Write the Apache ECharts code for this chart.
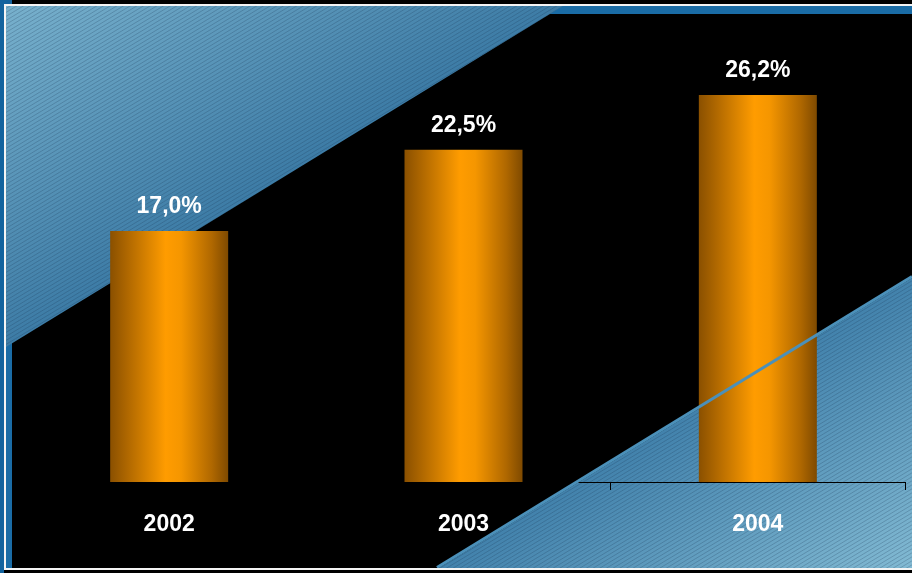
<!DOCTYPE html>
<html>
<head>
<meta charset="utf-8">
<style>
  html, body { margin: 0; padding: 0; background: #000; }
  #chart { width: 912px; height: 573px; }
</style>
<script src="https://cdn.jsdelivr.net/npm/echarts@6/dist/echarts.min.js"></script>
</head>
<body>
<div id="chart"></div>
<script>
// Share by year (percent)
const categories = ['2002', '2003', '2004'];
const shareValues = [17.0, 22.5, 26.2];

// Fine diagonal hatching used on the blue panels
function makeHatch() {
  const c = document.createElement('canvas');
  c.width = 20; c.height = 12;
  const g = c.getContext('2d');
  g.strokeStyle = 'rgba(25,50,80,0.24)';
  g.lineWidth = 1;
  for (let k = -24; k <= 36; k += 4) {
    g.beginPath();
    g.moveTo(-2, k + 1.2);
    g.lineTo(22, k - 0.6 * 24 + 1.2);
    g.stroke();
  }
  return c;
}
const hatch = makeHatch();

const upperPanel = [[6, 6], [563, 6], [6, 347]];
const lowerPanel = [[437, 569], [912, 278], [912, 569]];

const chart = echarts.init(document.getElementById('chart'), null, { renderer: 'canvas' });

chart.setOption({
  backgroundColor: '#000000',
  animation: false,
  grid: { left: 22, right: 7, top: 39, bottom: 91 },
  xAxis: {
    type: 'category',
    data: categories,
    z: 5,
    axisLine: { show: true, lineStyle: { color: '#000000', width: 1 } },
    axisTick: { show: true, length: 8, lineStyle: { color: '#000000', width: 1 } },
    axisLabel: {
      color: '#ffffff',
      fontFamily: 'Liberation Sans, Arial, sans-serif',
      fontWeight: 'bold',
      fontSize: 23,
      margin: 31
    }
  },
  yAxis: { type: 'value', min: 0, max: 30, show: false, splitLine: { show: false } },
  graphic: [
    // frame
    { type: 'rect', z: -20, shape: { x: 0, y: 0, width: 4, height: 573 }, style: { fill: '#13639e' } },
    { type: 'rect', z: -20, shape: { x: 0, y: 0, width: 12, height: 4 }, style: { fill: '#13639e' } },
    { type: 'rect', z: -20, shape: { x: 6, y: 6, width: 906, height: 8 }, style: { fill: '#1a6ca6' } },
    { type: 'rect', z: -20, shape: { x: 6, y: 6, width: 6, height: 563 }, style: { fill: '#1a6ca6' } },
    // upper-left panel
    {
      type: 'polygon', z: -10, shape: { points: upperPanel },
      style: {
        fill: new echarts.graphic.LinearGradient(6, 6, 158, 254,
          [{ offset: 0, color: '#78b1cd' }, { offset: 1, color: '#3d7ca6' }], true)
      }
    },
    { type: 'polygon', z: -9, shape: { points: upperPanel }, style: { fill: { image: hatch, repeat: 'repeat' } } },
    // lower-right panel
    {
      type: 'polygon', z: -10, shape: { points: lowerPanel },
      style: {
        fill: new echarts.graphic.LinearGradient(782, 357, 912, 569,
          [{ offset: 0, color: '#4282ac' }, { offset: 1, color: '#82bad3' }], true)
      }
    },
    { type: 'polygon', z: -9, shape: { points: lowerPanel }, style: { fill: { image: hatch, repeat: 'repeat' } } },
    // panel edge drawn over the bars
    {
      type: 'line', z: 50,
      shape: { x1: 437, y1: 567.5, x2: 912, y2: 276.5 },
      style: { stroke: '#4b90b9', lineWidth: 3 }
    },
    // white frame lines
    { type: 'rect', z: 60, shape: { x: 4, y: 4, width: 908, height: 2 }, style: { fill: '#f4f4f4' } },
    { type: 'rect', z: 60, shape: { x: 4, y: 4, width: 2, height: 566 }, style: { fill: '#f4f4f4' } },
    { type: 'rect', z: 60, shape: { x: 4, y: 568, width: 908, height: 2 }, style: { fill: '#f4f4f4' } }
  ],
  series: [{
    type: 'bar',
    data: shareValues,
    barWidth: 118,
    z: 3,
    itemStyle: {
      color: new echarts.graphic.LinearGradient(0, 0, 1, 0, [
        { offset: 0, color: '#8a5000' },
        { offset: 0.15, color: '#b06800' },
        { offset: 0.47, color: '#ff9c00' },
        { offset: 0.6, color: '#f59600' },
        { offset: 0.86, color: '#b06800' },
        { offset: 1, color: '#7f4a00' }
      ])
    },
    label: {
      show: true,
      position: 'top',
      distance: 13,
      color: '#ffffff',
      fontFamily: 'Liberation Sans, Arial, sans-serif',
      fontWeight: 'bold',
      fontSize: 23,
      formatter: p => p.value.toFixed(1).replace('.', ',') + '%'
    }
  }]
});
</script>
</body>
</html>
